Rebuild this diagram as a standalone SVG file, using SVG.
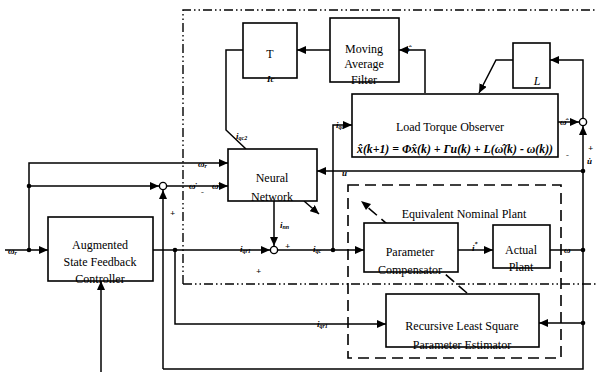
<svg xmlns="http://www.w3.org/2000/svg" width="597" height="372" viewBox="0 0 597 372">
<defs>
<marker id="ah" markerUnits="userSpaceOnUse" markerWidth="9" markerHeight="8" refX="9" refY="4" orient="auto">
<path d="M0,0 L9,4 L0,8 z" fill="#000"/>
</marker>
<style>
.box{fill:#fff;stroke:#000;stroke-width:1.6}
.ln{fill:none;stroke:#000;stroke-width:1.5}
.dd{fill:none;stroke:#000;stroke-width:1.4;stroke-dasharray:9 3 1.5 3 1.5 3}
.dash{fill:none;stroke:#000;stroke-width:1.6;stroke-dasharray:11 6}
.t{font-family:"Liberation Serif",serif;font-size:12px;fill:#000;text-anchor:middle}
.lb{font-family:"Liberation Serif",serif;font-size:9px;font-style:italic;font-weight:bold;fill:#000}
.dot{fill:#000}
.sum{fill:#fff;stroke:#000;stroke-width:1.4}
</style>
</defs>
<g id="frames">
<path class="dd" d="M183,284 V10 H597"/>
<path class="dd" d="M183,284 H597"/>
<rect class="dash" x="348" y="185" width="213" height="173"/>
<text class="t" x="464" y="218">Equivalent Nominal Plant</text>
</g>
<g id="connectors">
<path class="ln" d="M5,250 H48" marker-end="url(#ah)"/>
<path class="ln" d="M29,250 V163 H228" marker-end="url(#ah)"/>
<path class="ln" d="M29,186 H159" marker-end="url(#ah)"/>
<path class="ln" d="M167,186 H228" marker-end="url(#ah)"/>
<path class="ln" d="M583,171 H317" marker-end="url(#ah)"/>
<path class="ln" d="M163,369 V190" marker-end="url(#ah)"/>
<path class="ln" d="M163,369 H583 V126" marker-end="url(#ah)"/>
<path class="ln" d="M101,372 V281" marker-end="url(#ah)"/>
<path class="ln" d="M153,250 H270" marker-end="url(#ah)"/>
<path class="ln" d="M274,201 V246" marker-end="url(#ah)"/>
<path class="ln" d="M278,250 H364" marker-end="url(#ah)"/>
<path class="ln" d="M333,250 V125 H352" marker-end="url(#ah)"/>
<path class="ln" d="M175,250 V324 H386" marker-end="url(#ah)"/>
<path class="ln" d="M458,250 H493" marker-end="url(#ah)"/>
<path class="ln" d="M550,250 H583"/>
<path class="ln" d="M583,323 H539" marker-end="url(#ah)"/>
<path class="ln" d="M558,122 H579" marker-end="url(#ah)"/>
<path class="ln" d="M583,118 V60 H550" marker-end="url(#ah)"/>
<path class="ln" d="M513,60 H496 L479,93" marker-end="url(#ah)"/>
<path class="ln" d="M425,93 V50 H399" marker-end="url(#ah)"/>
<path class="ln" d="M330,50 H297" marker-end="url(#ah)"/>
<path class="ln" d="M243,50 H226 V130 L246,149"/>
<path class="ln" d="M304,201 L319,214" marker-end="url(#ah)"/>
<path class="dash" d="M467,293 L365,205" stroke-dasharray="9 5"/>
<path d="M361,201 L371,204 L366,210 z" fill="#000"/>
<circle class="dot" cx="29" cy="250" r="2.3"/>
<circle class="dot" cx="29" cy="186" r="2.3"/>
<circle class="dot" cx="175" cy="250" r="2.3"/>
<circle class="dot" cx="333" cy="250" r="2.3"/>
<circle class="dot" cx="583" cy="171" r="2.3"/>
<circle class="dot" cx="583" cy="250" r="2.3"/>
<circle class="dot" cx="583" cy="323" r="2.3"/>
<circle class="sum" cx="163" cy="186" r="3.6"/>
<circle class="sum" cx="274" cy="250" r="3.6"/>
<circle class="sum" cx="583" cy="122" r="3.6"/>
<text class="lb" x="8" y="254">ω<tspan font-size="6" dy="1">r</tspan></text>
<text class="lb" x="198" y="167">ω<tspan font-size="6" dy="1">r</tspan></text>
<text class="lb" x="189" y="189">ω̇</text>
<text class="lb" x="201" y="195">-</text>
<text class="lb" x="212" y="189">ω̇</text>
<text class="lb" x="170" y="216">+</text>
<text class="lb" x="256" y="274">+</text>
<text class="lb" x="285" y="249">+</text>
<text class="lb" x="240" y="252">i<tspan font-size="6" dy="1">qr1</tspan></text>
<text class="lb" x="280" y="228">i<tspan font-size="6" dy="1">nn</tspan></text>
<text class="lb" x="313" y="252">i<tspan font-size="6" dy="1">qc</tspan></text>
<text class="lb" x="336" y="128">i<tspan font-size="6" dy="1">qc</tspan></text>
<text class="lb" x="317" y="327">i<tspan font-size="6" dy="1">qr1</tspan></text>
<text class="lb" x="236" y="139">i<tspan font-size="6" dy="1">qc2</tspan></text>
<text class="lb" x="472" y="251">i<tspan font-size="6" dy="-5">*</tspan></text>
<text class="lb" x="564" y="253">ω</text>
<text class="lb" x="560" y="125">ω̂</text>
<text class="lb" x="403" y="52">ω̂</text>
<text class="lb" x="342" y="176">u</text>
<text class="lb" x="566" y="158">-</text>
<text class="lb" x="588" y="151">+</text>
<text class="lb" x="587" y="164">u̇</text>
</g>
<g id="T">
<rect class="box" x="243" y="23" width="54" height="55"/>
<text class="t" x="270" y="58" font-size="20" font-family="Liberation Sans, sans-serif">T</text>
<text class="lb" x="267" y="82">Ic</text>
</g>
<g id="MAF">
<rect class="box" x="330" y="18" width="69" height="64"/>
<text class="t" x="364" y="53">Moving</text>
<text class="t" x="364" y="68">Average</text>
<text class="t" x="364" y="84">Filter</text>
</g>
<g id="Lbox">
<rect class="box" x="513" y="43" width="37" height="45"/>
<text class="t" x="537" y="85" font-style="italic" font-size="13">L</text>
</g>
<g id="LTO">
<rect class="box" x="352" y="94" width="206" height="63"/>
<text class="t" x="450" y="131">Load Torque Observer</text>
<text class="t" x="455" y="153" font-size="8" font-style="italic" font-weight="bold" textLength="196" lengthAdjust="spacingAndGlyphs">x̂(k+1) = Φx̂(k) + Γu(k) + L(ω̂(k) - ω(k))</text>
</g>
<g id="NN">
<rect class="box" x="228" y="149" width="89" height="52"/>
<text class="t" x="272" y="182">Neural</text>
<text class="t" x="272" y="201">Network</text>
</g>
<g id="ASFC">
<rect class="box" x="48" y="217" width="105" height="64"/>
<text class="t" x="100" y="249">Augmented</text>
<text class="t" x="100" y="266">State Feedback</text>
<text class="t" x="100" y="283">Controller</text>
</g>
<g id="PC">
<rect class="box" x="364" y="223" width="94" height="49"/>
<text class="t" x="410" y="256">Parameter</text>
<text class="t" x="410" y="274">Compensator</text>
</g>
<g id="AP">
<rect class="box" x="493" y="225" width="57" height="43"/>
<text class="t" x="521" y="254">Actual</text>
<text class="t" x="521" y="271">Plant</text>
</g>
<g id="RLS">
<rect class="box" x="386" y="294" width="153" height="53"/>
<text class="t" x="462" y="330">Recursive Least Square</text>
<text class="t" x="462" y="349">Parameter Estimator</text>
</g>
</svg>
